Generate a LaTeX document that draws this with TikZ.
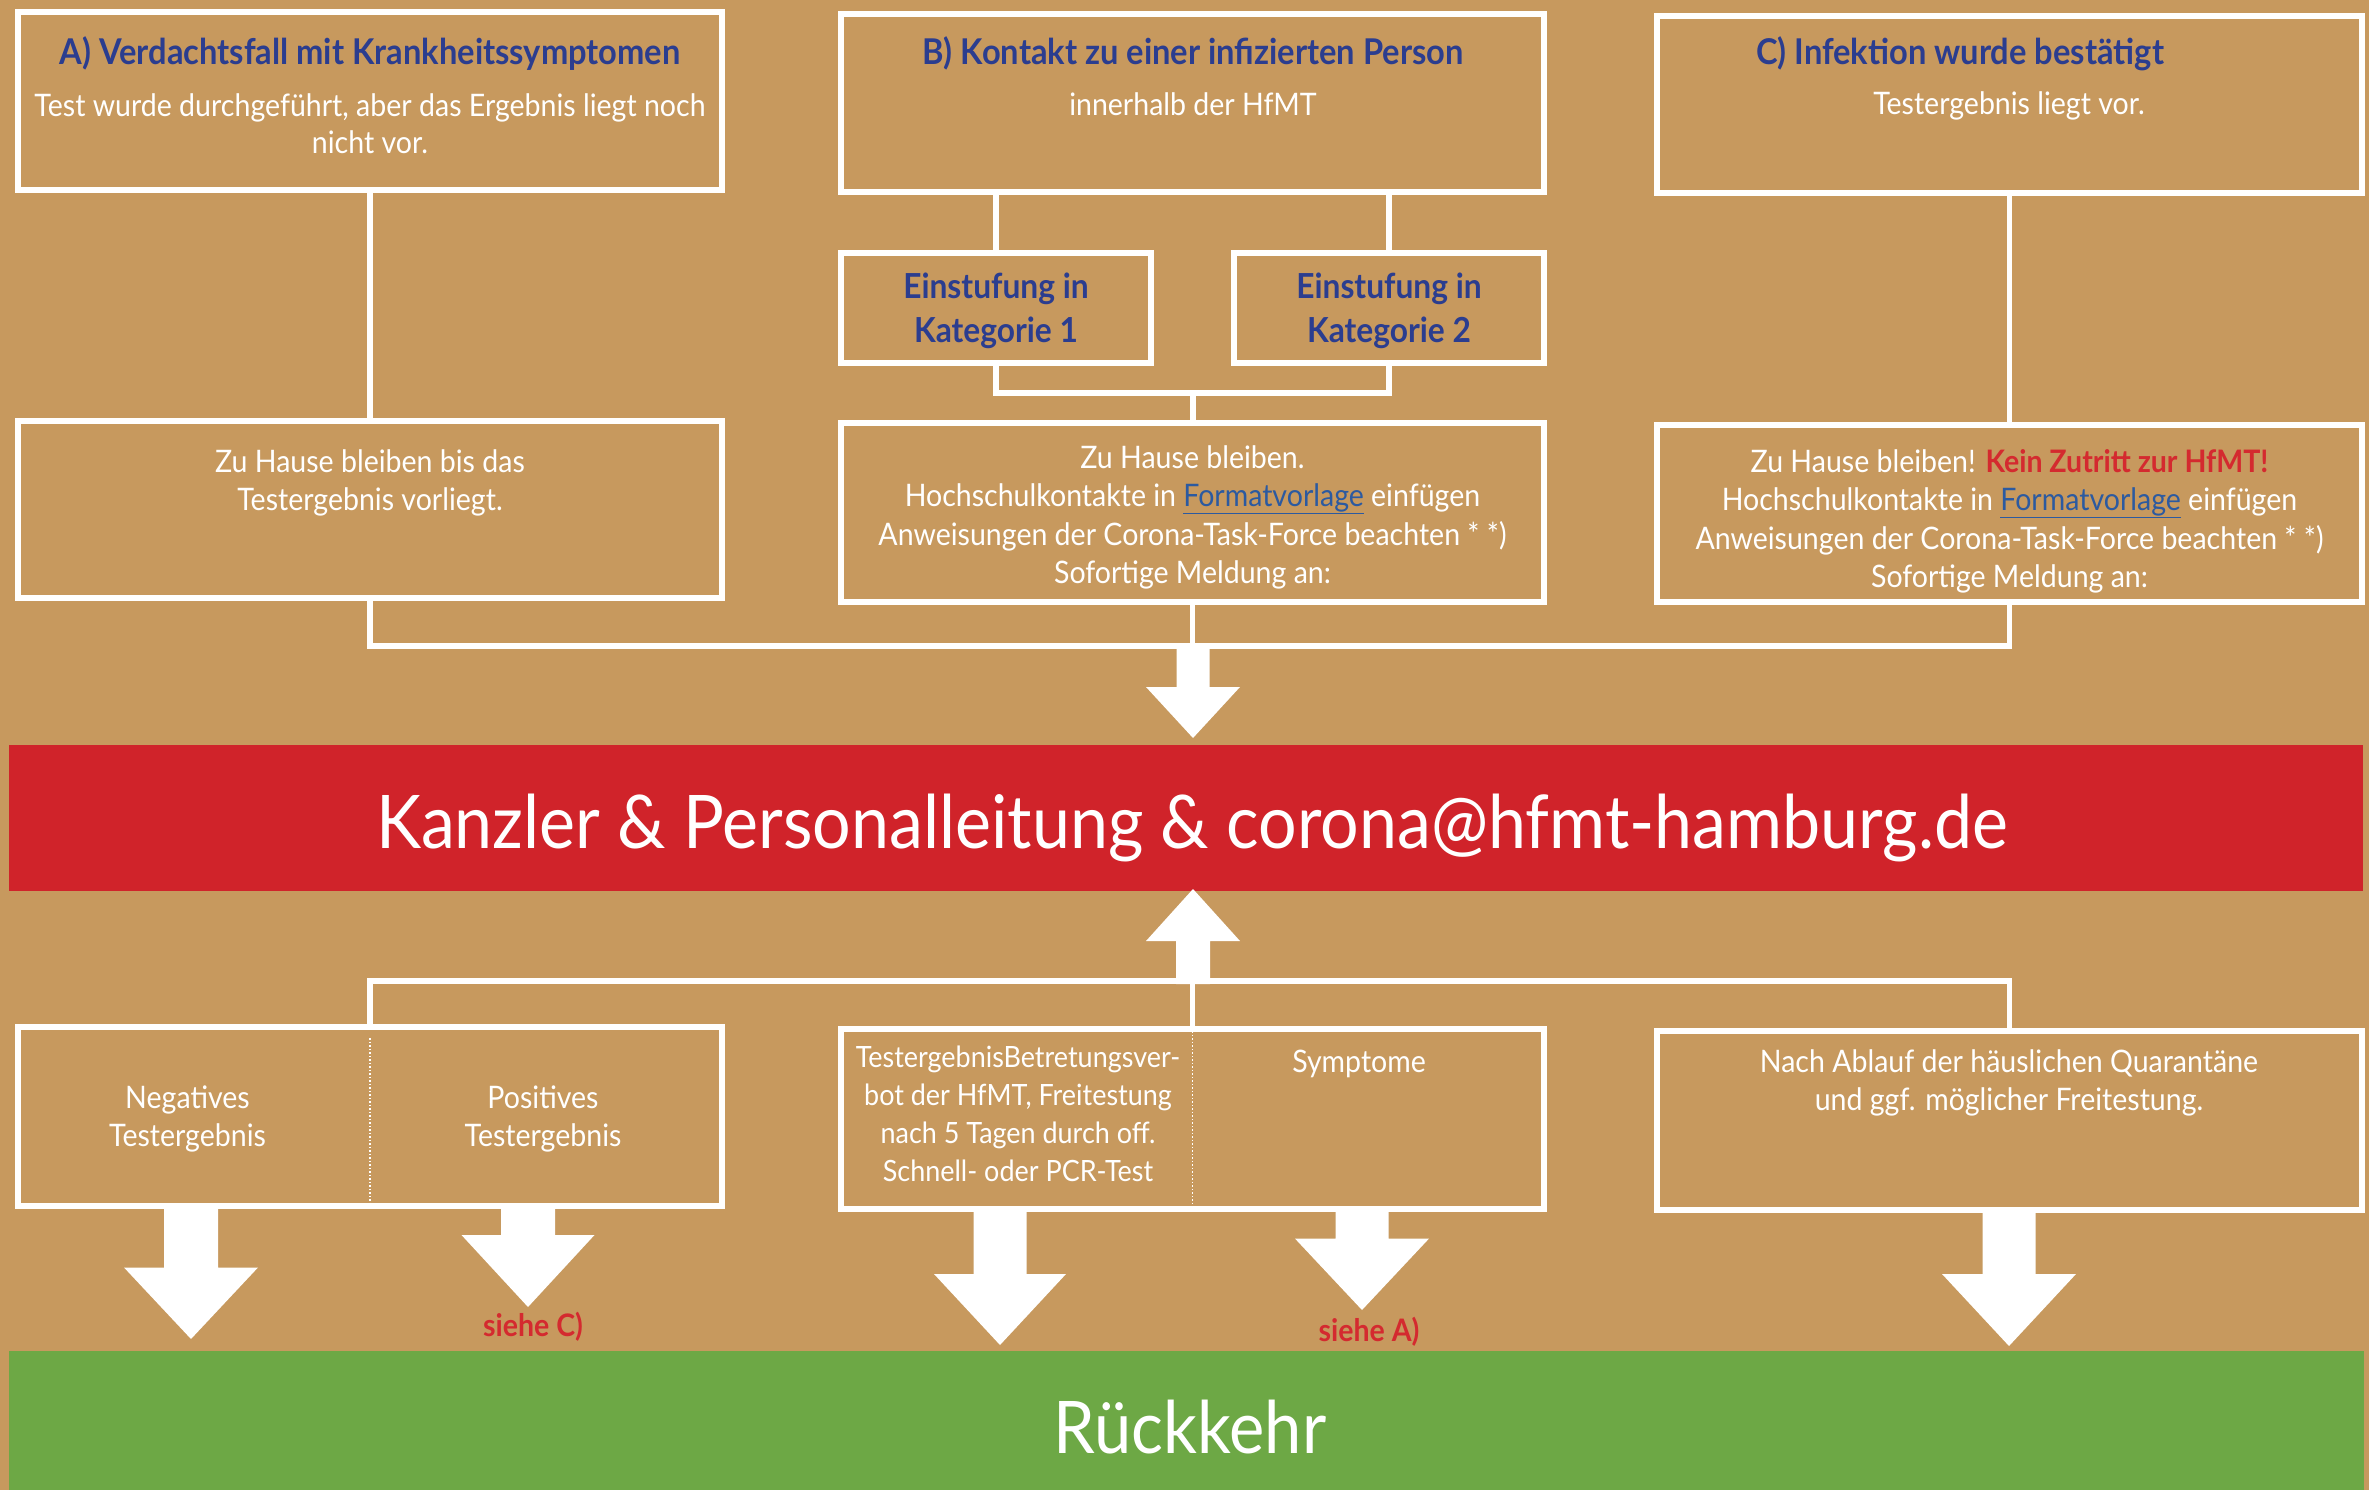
\documentclass[tikz,border=0pt]{standalone}
\usepackage{fontspec}
\setmainfont[FakeStretch=0.92]{Lato}
\definecolor{tanbg}{HTML}{C7995E}
\definecolor{bandred}{HTML}{D0232A}
\definecolor{bandgreen}{HTML}{6DA845}
\definecolor{titleblue}{HTML}{2B3D8F}
\definecolor{alertred}{HTML}{D42A2F}
\definecolor{linkblue}{HTML}{2C5AA0}
\newcommand\blockarrow[6]{%
  \fill[white] ({#1-#4},#2) -- ({#1+#4},#2) -- ({#1+#4},#3) -- ({#1+#5},#3)
    -- (#1,#6) -- ({#1-#5},#3) -- ({#1-#4},#3) -- cycle;}
\newcommand\lnk[1]{{\color{linkblue}\underline{#1}}}
\begin{document}
\begin{tikzpicture}[x=1pt,y=-1pt,
  box/.style={draw=white,line width=5.5pt,inner sep=0pt,outer sep=0pt},
  band/.style={inner sep=0pt,outer sep=0pt},
  conn/.style={draw=white,line width=5.5pt},
  txt/.style={text=white,inner sep=0pt,anchor=base,font=\fontsize{31pt}{36pt}\selectfont},
  txtn/.style={txt,font=\fontsize{29.3pt}{35pt}\selectfont},
  ttl/.style={text=titleblue,inner sep=0pt,anchor=base,font=\bfseries\fontsize{35.5pt}{42pt}\selectfont},
  kat/.style={text=titleblue,inner sep=0pt,anchor=base,font=\bfseries\fontsize{34.5pt}{42pt}\selectfont},
  siehe/.style={text=alertred,inner sep=0pt,anchor=base,font=\bfseries\fontsize{31pt}{36pt}\selectfont},
  big/.style={text=white,inner sep=0pt,anchor=base,font=\fontsize{74pt}{82pt}\selectfont}]
\fill[tanbg] (0,0) rectangle (2369,1490);
\useasboundingbox (0,0) rectangle (2369,1490);

% ---- top row ----
\node[box,minimum width=704pt,minimum height=178pt] (A) at (370,101) {};
\node[ttl] (At) at (370,65) {A) Verdachtsfall mit Krankheitssymptomen};
\node[txt] (Ab1) at (370,116.6) {Test wurde durchgeführt, aber das Ergebnis liegt noch};
\node[txt] (Ab2) at (370,154) {nicht vor.};

\node[box,minimum width=703pt,minimum height=178pt] (B) at (1192.5,103) {};
\node[ttl] (Bt) at (1193,65) {B) Kontakt zu einer infizierten Person};
\node[txt] (Bb1) at (1193,115.5) {innerhalb der HfMT};

\node[box,minimum width=705pt,minimum height=177pt] (C) at (2009.5,104.5) {};
\node[ttl] (Ct) at (1960,65) {C) Infektion wurde bestätigt};
\node[txt] (Cb1) at (2009,115) {Testergebnis liegt vor.};

\node[box,minimum width=310pt,minimum height=110pt] (K1) at (996,308) {};
\node[kat] (K1a) at (996,298.5) {Einstufung in};
\node[kat] (K1b) at (996,342) {Kategorie 1};
\node[box,minimum width=310pt,minimum height=110pt] (K2) at (1389,308) {};
\node[kat] (K2a) at (1389,298.5) {Einstufung in};
\node[kat] (K2b) at (1389,342) {Kategorie 2};

% ---- second row ----
\node[box,minimum width=704pt,minimum height=177pt] (A2) at (370,509.5) {};
\node[txt] (A2a) at (370,472.5) {Zu Hause bleiben bis das};
\node[txt] (A2b) at (370,510) {Testergebnis vorliegt.};

\node[box,minimum width=703pt,minimum height=179pt] (B2) at (1192.5,512.5) {};
\node[txt] (B2a) at (1192.5,468.5) {Zu Hause bleiben.};
\node[txt] (B2b) at (1192.5,506) {Hochschulkontakte in \lnk{Formatvorlage} einfügen};
\node[txt] (B2c) at (1192.5,545) {Anweisungen der Corona-Task-Force beachten * *)};
\node[txt] (B2d) at (1192.5,583) {Sofortige Meldung an:};

\node[box,minimum width=705pt,minimum height=177pt] (C2) at (2009.5,513.5) {};
\node[txt] (C2a) at (2009.5,472.5) {Zu Hause bleiben! {\color{alertred}\bfseries Kein Zutritt zur HfMT!}};
\node[txt] (C2b) at (2009.5,510) {Hochschulkontakte in \lnk{Formatvorlage} einfügen};
\node[txt] (C2c) at (2009.5,549.6) {Anweisungen der Corona-Task-Force beachten * *)};
\node[txt] (C2d) at (2009.5,587) {Sofortige Meldung an:};

% ---- red band ----
\node[band,fill=bandred,minimum width=2354pt,minimum height=146pt] (R) at (1186,818) {};
\node[big] (Rt) at (1192,848) {Kanzler \& Personalleitung \& corona@hfmt-hamburg.de};

% ---- lower row ----
\node[box,minimum width=704pt,minimum height=179pt] (D) at (370,1116.5) {};
\draw[white,line width=1.5pt,dotted] ([yshift=-11pt]D.north) -- ([yshift=3pt]D.south);
\node[txt] (Da) at (187.5,1108) {Negatives};
\node[txt] (Db) at (187.5,1146) {Testergebnis};
\node[txt] (Dc) at (543,1108) {Positives};
\node[txt] (Dd) at (543,1146) {Testergebnis};

\node[box,minimum width=703pt,minimum height=180pt] (E) at (1192.5,1119) {};
\draw[white,line width=1.5pt,dotted] ([yshift=-2pt]E.north) -- ([yshift=4pt]E.south);
\node[txtn] (Ea) at (1018,1067) {TestergebnisBetretungsver-};
\node[txtn] (Eb) at (1018,1105) {bot der HfMT, Freitestung};
\node[txtn] (Ec) at (1018,1143) {nach 5 Tagen durch off.};
\node[txtn] (Ed) at (1018,1181) {Schnell- oder PCR-Test};
\node[txt] (Ee) at (1359,1072) {Symptome};

\node[box,minimum width=705pt,minimum height=179pt] (F) at (2009.5,1120.5) {};
\node[txt] (Fa) at (2009,1072) {Nach Ablauf der häuslichen Quarantäne};
\node[txt] (Fb) at (2009,1110) {und ggf. möglicher Freitestung.};

% ---- green band ----
\node[band,fill=bandgreen,minimum width=2355pt,minimum height=139pt] (G) at (1186.5,1420.5) {};
\node[big,font=\fontsize{72.6pt}{80pt}\selectfont] (Gt) at (1190,1453) {Rückkehr};

\node[siehe] (sC) at (533,1336) {siehe C)};
\node[siehe] (sA) at (1369,1341) {siehe A)};

% ---- connectors ----
\draw[conn] (A.south) -- (A2.north);
\draw[conn] (K1.north) -- (K1.north |- B.south);
\draw[conn] (K2.north) -- (K2.north |- B.south);
\coordinate (kj) at (1193,393);
\draw[conn] (K1.south) |- (kj) -| (K2.south);
\draw[conn] (kj) -- (kj |- B2.north);
\draw[conn] (C.south) -- (C2.north);

\coordinate (tb) at (1193,646);
\draw[conn] (A2.south) |- (tb);
\draw[conn] (C2.south) |- (tb);
\draw[conn] (B2.south) -- (B2.south |- tb);

\coordinate (bb) at (1193,981);
\draw[conn] (D.north) |- (bb);
\draw[conn] (F.north) |- (bb);
\draw[conn] (E.north) -- (E.north |- bb);

% ---- block arrows ----
\blockarrow{1193}{643}{687}{16.5}{47}{738}
\blockarrow{1193}{984}{941}{17}{47}{889}
\blockarrow{191}{1209}{1267.5}{27}{67}{1339}
\blockarrow{528}{1209}{1235}{27}{66.5}{1307}
\blockarrow{1000}{1212}{1274}{26.5}{66}{1345}
\blockarrow{1362}{1212}{1238.6}{26.5}{67}{1310}
\blockarrow{2009}{1213}{1274}{26.5}{67}{1346}
\end{tikzpicture}
\end{document}
